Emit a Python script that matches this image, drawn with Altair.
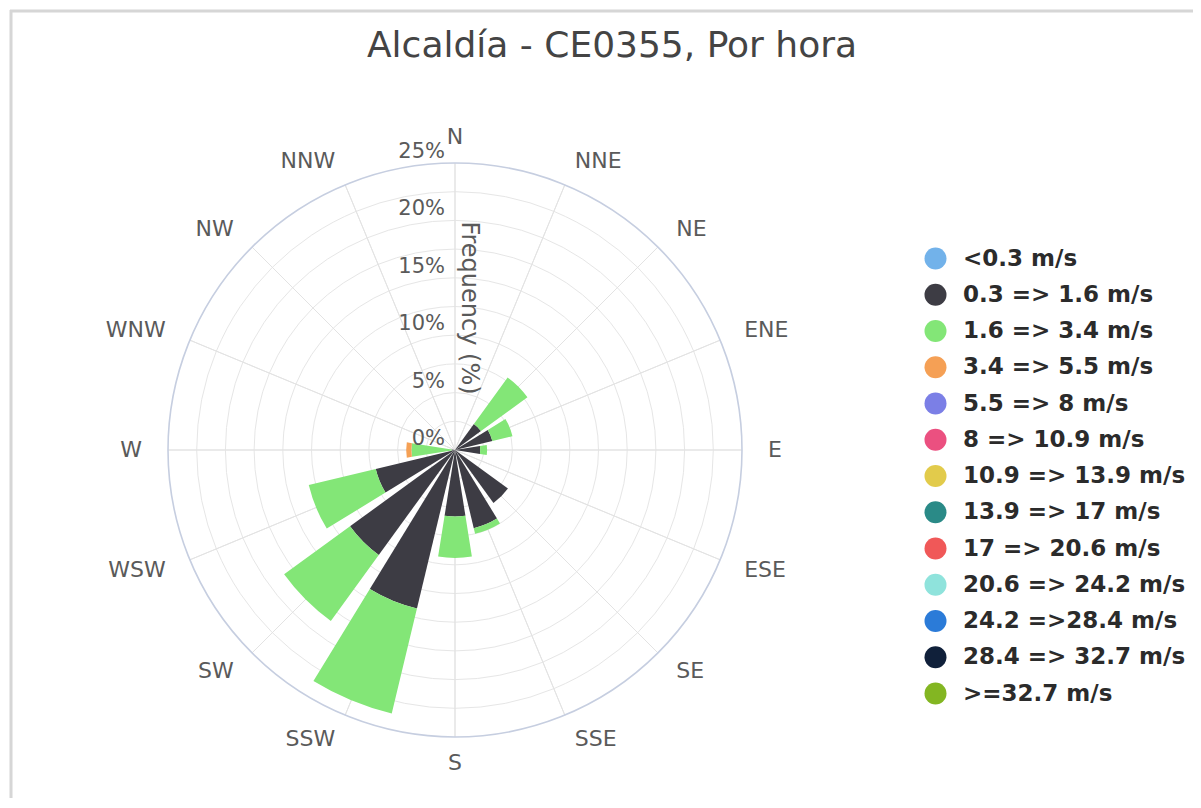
import math
import altair as alt
import pandas as pd

# ---------------- data ----------------
directions = ["N", "NNE", "NE", "ENE", "E", "ESE", "SE", "SSE",
              "S", "SSW", "SW", "WSW", "W", "WNW", "NW", "NNW"]

speed_labels = ["<0.3 m/s", "0.3 => 1.6 m/s", "1.6 => 3.4 m/s", "3.4 => 5.5 m/s",
                "5.5 => 8 m/s", "8 => 10.9 m/s", "10.9 => 13.9 m/s", "13.9 => 17 m/s",
                "17 => 20.6 m/s", "20.6 => 24.2 m/s", "24.2 =>28.4 m/s",
                "28.4 => 32.7 m/s", ">=32.7 m/s"]
speed_colors = ["#72b2ea", "#3d3c44", "#83e677", "#f5a055", "#7b7fe6", "#eb5080",
                "#e2cb4b", "#2a8a87", "#f05858", "#8fe3dc", "#2b7bd8", "#10203a",
                "#83b622"]

# frequency (%) per direction for each speed bin (bins not listed are all zero)
freq_lt_0_3 = [0, 0, 0, 0, 0, 0, 0, 0, 0, 0, 0, 0, 0, 0, 0, 0]
freq_0_3_1_6 = [0, 0, 2.8, 3.35, 2.2, 0, 5.7, 7.0, 5.8, 14.2, 11.3, 7.1, 0.3, 0, 0, 0]
freq_1_6_3_4 = [0, 0, 5.0, 1.8, 0.6, 0, 0, 0.5, 3.6, 9.4, 7.1, 6.0, 3.5, 0, 0, 0]
freq_3_4_5_5 = [0, 0, 0, 0, 0, 0, 0, 0, 0, 0, 0, 0, 0.45, 0, 0, 0]

radial_ticks = [0, 5, 10, 15, 20, 25]
radial_tick_labels = ["0%", "5%", "10%", "15%", "20%", "25%"]
grid_levels = [2.5, 5, 7.5, 10, 12.5, 15, 17.5, 20, 22.5]
outer_level = [25]

title_text = "Alcaldía - CE0355, Por hora"
radial_title = "Frequency (%)"

# ---------------- tables ----------------
series = [(speed_labels[0], freq_lt_0_3), (speed_labels[1], freq_0_3_1_6),
          (speed_labels[2], freq_1_6_3_4), (speed_labels[3], freq_3_4_5_5)]
rows = []
for i, d in enumerate(directions):
    cum = 0.0
    for lab, vals in series:
        v = vals[i]
        if v > 0:
            rows.append({"direction": d, "speed": lab, "angle": i * 22.5,
                         "start": cum, "end": cum + v, "freq": v})
            cum += v
bars_df = pd.DataFrame(rows)
dir_df = pd.DataFrame({"direction": directions,
                       "angle": [i * 22.5 for i in range(len(directions))]})
ticks_df = pd.DataFrame({"tick": radial_ticks, "label": radial_tick_labels})
grid_df = pd.DataFrame({"level": grid_levels})
outer_df = pd.DataFrame({"level": outer_level})

# ---------------- layout ----------------
W, H = 1185, 790
CX, CY = 447, 442
R = 287
FONT = "DejaVu Sans"

theta_scale = alt.Scale(domain=[0, 360], range=[0, 2 * math.pi])
r_scale = alt.Scale(type="linear", domain=[0, 25], range=[0, R], zero=True, nice=False)
cx = alt.value(CX)
cy = alt.value(CY)

grid = alt.Chart(grid_df).mark_arc(filled=False, stroke="#e6e6e6", strokeWidth=1).encode(
    x=cx, y=cy, theta=alt.value(0), theta2=alt.value(2 * math.pi),
    radius=alt.Radius("level:Q", scale=r_scale, stack=False))

spokes = alt.Chart(dir_df).transform_calculate(rmax="25").mark_arc(
    filled=False, stroke="#e3e3e3", strokeWidth=1).encode(
    x=cx, y=cy,
    theta=alt.Theta("angle:Q", scale=theta_scale, stack=False), theta2="angle:Q",
    radius=alt.Radius("rmax:Q", scale=r_scale, stack=False))

outer = alt.Chart(outer_df).mark_arc(filled=False, stroke="#c6cee0", strokeWidth=1.6).encode(
    x=cx, y=cy, theta=alt.value(0), theta2=alt.value(2 * math.pi),
    radius=alt.Radius("level:Q", scale=r_scale, stack=False))

bars = alt.Chart(bars_df).transform_calculate(
    a0="datum.angle - 9", a1="datum.angle + 9").mark_arc(strokeWidth=0).encode(
    x=cx, y=cy,
    theta=alt.Theta("a0:Q", scale=theta_scale, stack=False), theta2="a1:Q",
    radius=alt.Radius("end:Q", scale=r_scale, stack=False), radius2="start:Q",
    color=alt.Color("speed:N",
                    scale=alt.Scale(domain=speed_labels, range=speed_colors),
                    legend=alt.Legend(orient="none", legendX=916, legendY=239,
                                      title=None, symbolType="circle", symbolSize=484,
                                      symbolStrokeWidth=0, symbolOpacity=1,
                                      labelFont=FONT, labelFontSize=23,
                                      labelFontWeight="bold", labelColor="#2b2b2b",
                                      labelOffset=16, rowPadding=12.25, padding=0,
                                      labelLimit=400)),
    tooltip=["direction:N", "speed:N", "freq:Q"])

tick_text = alt.Chart(ticks_df).mark_text(
    align="right", baseline="middle", dx=-10, dy=-11, font=FONT, fontSize=21,
    color="#5a5a5a").encode(
    x=cx, y=cy, theta=alt.value(0),
    radius=alt.Radius("tick:Q", scale=r_scale, stack=False), text="label:N")

def dir_layer(expr, align):
    return alt.Chart(dir_df).transform_filter(expr).mark_text(
        align=align, baseline="middle", font=FONT, fontSize=22, color="#5a5a5a").encode(
        x=cx, y=cy,
        theta=alt.Theta("angle:Q", scale=theta_scale, stack=False),
        radius=alt.value(313), text="direction:N")

dir_right = dir_layer("datum.angle > 0 && datum.angle < 180", "left")
dir_left = dir_layer("datum.angle > 180", "right")
dir_mid = dir_layer("datum.angle == 0 || datum.angle == 180", "center")

title_df = pd.DataFrame({"t": [title_text]})
title = alt.Chart(title_df).mark_text(
    align="center", baseline="alphabetic", font=FONT, fontSize=36, color="#444444").encode(
    x=alt.value(604), y=alt.value(49), text="t:N")

rtitle_df = pd.DataFrame({"t": [radial_title]})
rtitle = alt.Chart(rtitle_df).mark_text(
    align="center", baseline="middle", angle=90, font=FONT, fontSize=24,
    color="#5a5a5a").encode(x=alt.value(461), y=alt.value(300), text="t:N")

frame_df = pd.DataFrame({"k": [0]})
frame_top = alt.Chart(frame_df).mark_rule(color="#d6d6d6", strokeWidth=3).encode(
    x=alt.value(2), x2=alt.value(W), y=alt.value(3))
frame_left = alt.Chart(frame_df).mark_rule(color="#d6d6d6", strokeWidth=3).encode(
    x=alt.value(3), y=alt.value(2), y2=alt.value(H))

chart = alt.layer(
    frame_top, frame_left, grid, spokes, outer, bars, tick_text,
    dir_right, dir_left, dir_mid, title, rtitle
).properties(
    width=W, height=H, autosize=alt.AutoSizeParams(type="none"), padding=0
).configure_view(strokeWidth=0)

chart.save("out.html", embed_options={"renderer": "svg", "actions": False})
